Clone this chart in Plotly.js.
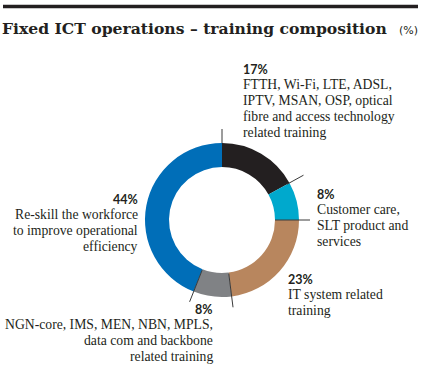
<!DOCTYPE html>
<html>
<head>
<meta charset="utf-8">
<script src="https://cdn.plot.ly/plotly-3.0.1.min.js"></script>
<style>html,body{margin:0;padding:0;background:#fff;}#chart{width:424px;height:374px;}</style>
</head>
<body>
<div id="chart"></div>
<script>
const categories = [
  "FTTH, Wi-Fi, LTE, ADSL,<br>IPTV, MSAN, OSP, optical<br>fibre and access technology<br>related training",
  "Customer care,<br>SLT product and<br>services",
  "IT system related<br>training",
  "NGN-core, IMS, MEN, NBN, MPLS,<br>data com and backbone<br>related training",
  "Re-skill the workforce<br>to improve operational<br>efficiency"
];
const values = [17, 8, 23, 8, 44];
const colors = ["#231f20", "#00a9cd", "#b8865e", "#808285", "#006eb8"];

const W = 424, H = 374;
const cx = 222, cy = 220, R = 77, rIn = 53;

// leader line radii [from, to] for each slice start boundary
const leader = [[77, 91], [74, 93], [53, 88], [54, 88], [54, 88]];

const shapes = [{
  type: 'line', xref: 'paper', yref: 'paper',
  x0: 3 / W, x1: 418 / W, y0: 1 - 6.5 / H, y1: 1 - 6.5 / H,
  line: { color: '#231f20', width: 3.5 }
}];
const total = values.reduce((a, b) => a + b, 0);
let cum = 0;
values.forEach((v, i) => {
  const th = cum / total * 2 * Math.PI;
  const [r0, r1] = leader[i];
  shapes.push({
    type: 'line', xref: 'paper', yref: 'paper',
    x0: (cx + r0 * Math.sin(th)) / W, y0: 1 - (cy - r0 * Math.cos(th)) / H,
    x1: (cx + r1 * Math.sin(th)) / W, y1: 1 - (cy - r1 * Math.cos(th)) / H,
    line: { color: '#3a3a3a', width: 1 }
  });
  cum += v;
});

const pctFont = "Lato, 'Open Sans', sans-serif";
const txtFont = "'Liberation Serif', serif";
const txtSize = 13.7, pctSize = 12.5, lineGap = 16;
// label placement: [x, first baseline, anchor]
const pos = [[242, 73, 'left'], [316, 198, 'left'], [287, 283, 'left'], [214, 313, 'right'], [139, 203, 'right']];
const annotations = [];
pos.forEach((p, i) => {
  const lines = [values[i] + '%'].concat(categories[i].split('<br>'));
  lines.forEach((t, j) => {
    const isPct = j === 0;
    const size = isPct ? pctSize : txtSize;
    const base = p[1] + j * lineGap;
    annotations.push({
      xref: 'paper', yref: 'paper', x: (p[0] + (p[2] === 'left' ? -1 : 1)) / W, y: 1 - (base - 0.3 * size) / H,
      xanchor: p[2], yanchor: 'middle', align: p[2], showarrow: false,
      text: isPct ? '<b>' + t + '</b>' : t,
      font: { family: isPct ? pctFont : txtFont, size: size, color: '#231f20' }
    });
  });
});
annotations.push({
  xref: 'paper', yref: 'paper', x: 0 / W, y: 1 - 28.5 / H, xanchor: 'left', yanchor: 'middle',
  showarrow: false, align: 'left',
  text: '<b>Fixed ICT operations – training composition</b>',
  font: { family: "'DejaVu Serif', serif", size: 15.6, color: '#231f20' }
});
annotations.push({
  xref: 'paper', yref: 'paper', x: 420 / W, y: 1 - 30.5 / H, xanchor: 'right', yanchor: 'middle',
  showarrow: false, align: 'right', text: '(%)',
  font: { family: "'DejaVu Sans', sans-serif", size: 11, color: '#231f20' }
});

const data = [{
  type: 'pie', values: values, labels: categories, marker: { colors: colors, line: { width: 0 } },
  hole: rIn / R, sort: false, direction: 'clockwise', rotation: 0,
  textinfo: 'none', hoverinfo: 'none', showlegend: false,
  domain: { x: [(cx - R) / W, (cx + R) / W], y: [1 - (cy + R) / H, 1 - (cy - R) / H] }
}];
const layout = {
  width: W, height: H, margin: { l: 0, r: 0, t: 0, b: 0 },
  paper_bgcolor: '#fff', showlegend: false, shapes: shapes, annotations: annotations
};
Plotly.newPlot('chart', data, layout, { displayModeBar: false, staticPlot: true });
</script>
</body>
</html>
